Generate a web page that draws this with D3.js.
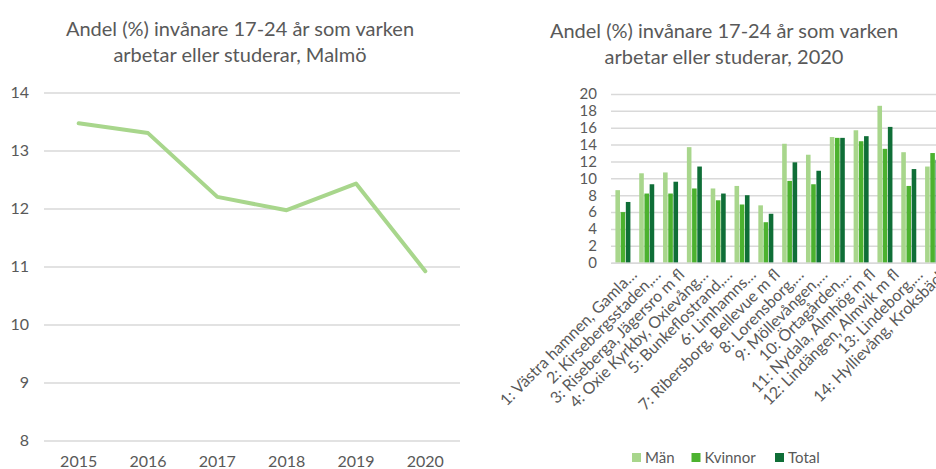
<!DOCTYPE html>
<html><head><meta charset="utf-8">
<script src="https://cdn.jsdelivr.net/npm/d3@7"></script>
<style>
body{margin:0;background:#fff;}
svg{display:block;font-family:Lato,"Open Sans",sans-serif;}
</style></head><body>
<svg id="c" width="936" height="469"></svg>
<script>
// ---- data: left line chart ----
const years = ["2015","2016","2017","2018","2019","2020"];
const malmoValues = [13.47, 13.30, 12.20, 11.97, 12.43, 10.92];
const leftTicks = [8, 9, 10, 11, 12, 13, 14];

// ---- data: right grouped bar chart ----
const areas = [
  "1: Västra hamnen, Gamla…",
  "2: Kirsebergsstaden,…",
  "3: Riseberga, Jägersro m fl",
  "4: Oxie Kyrkby, Oxievång…",
  "5: Bunkeflostrand,…",
  "6: Limhamns…",
  "7: Ribersborg, Bellevue m fl",
  "8: Lorensborg,…",
  "9: Möllevången,…",
  "10: Örtagården,…",
  "11: Nydala, Almhög m fl",
  "12: Lindängen, Almvik m fl",
  "13: Lindeborg,…",
  "14: Hyllievång, Kroksbäck"
];
const series = ["Män", "Kvinnor", "Total"];
const manValues     = [8.6, 10.6, 10.7, 13.7, 8.8, 9.1, 6.8, 14.1, 12.8, 14.9, 15.7, 18.6, 13.1, 11.4];
const kvinnorValues = [6.0, 8.2, 8.2, 8.8, 7.4, 6.9, 4.8, 9.7, 9.3, 14.8, 14.4, 13.5, 9.1, 13.0];
const totalValues   = [7.2, 9.3, 9.6, 11.4, 8.2, 8.0, 5.8, 11.9, 10.9, 14.8, 15.0, 16.1, 11.1, 12.2];
const rightTicks = [0, 2, 4, 6, 8, 10, 12, 14, 16, 18, 20];

const colors = {"Män": "#a8d68c", "Kvinnor": "#4cb22f", "Total": "#0f6e37"};
const textColor = "#595959";
const gridColor = "#d9d9d9";
const FONT = "Lato,'Open Sans',sans-serif";

const svg = d3.select("#c");

// ================= LEFT CHART =================
const L = svg.append("g");
L.append("text").attr("x", 240).attr("y", 36).attr("text-anchor", "middle")
  .attr("font-size", 20).attr("fill", textColor)
  .text("Andel (%) invånare 17-24 år som varken");
L.append("text").attr("x", 240).attr("y", 62).attr("text-anchor", "middle")
  .attr("font-size", 20).attr("fill", textColor)
  .text("arbetar eller studerar,  Malmö");

const xL = d3.scaleBand().domain(years).range([44, 460]);
const yL = d3.scaleLinear().domain([8, 14]).range([440.5, 92.5]);

const yAxisL = L.append("g").attr("transform", "translate(44,0)")
  .call(d3.axisLeft(yL).tickValues(leftTicks).tickFormat(d3.format("d")).tickSize(-416).tickPadding(15));
yAxisL.select(".domain").remove();
yAxisL.selectAll(".tick line").attr("stroke", gridColor).attr("stroke-width", 1.5);
yAxisL.selectAll(".tick text").attr("fill", textColor).attr("font-size", 16).attr("font-family", FONT);

const xAxisL = L.append("g").attr("transform", "translate(0,440.5)")
  .call(d3.axisBottom(xL).tickSize(0).tickPadding(15));
xAxisL.select(".domain").remove();
xAxisL.selectAll(".tick text").attr("fill", textColor).attr("font-size", 16).attr("font-family", FONT);

const line = d3.line().x((d, i) => xL(years[i]) + xL.bandwidth() / 2).y(d => yL(d));
L.append("path").datum(malmoValues).attr("d", line)
  .attr("fill", "none").attr("stroke", colors["Män"]).attr("stroke-width", 4)
  .attr("stroke-linejoin", "round").attr("stroke-linecap", "round");

// ================= RIGHT CHART =================
const R = svg.append("g");
R.append("text").attr("x", 724).attr("y", 38).attr("text-anchor", "middle")
  .attr("font-size", 20).attr("fill", textColor)
  .text("Andel (%) invånare 17-24 år som varken");
R.append("text").attr("x", 724).attr("y", 64).attr("text-anchor", "middle")
  .attr("font-size", 20).attr("fill", textColor)
  .text("arbetar eller studerar, 2020");

const x0 = d3.scaleBand().domain(areas).range([611, 944.5]).paddingInner(0.37).paddingOuter(0.185);
const x1 = d3.scaleBand().domain(series).range([0, x0.bandwidth()]).paddingInner(0.12);
const yR = d3.scaleLinear().domain([0, 20]).range([262.7, 94]);

const yAxisR = R.append("g").attr("transform", "translate(611,0)")
  .call(d3.axisLeft(yR).tickValues(rightTicks).tickSize(-340).tickPadding(14));
yAxisR.select(".domain").remove();
yAxisR.selectAll(".tick line").attr("stroke", gridColor).attr("stroke-width", 1.5);
yAxisR.selectAll(".tick text").attr("fill", textColor).attr("font-size", 15).attr("font-family", FONT);

const seriesData = {"Män": manValues, "Kvinnor": kvinnorValues, "Total": totalValues};
const groups = R.append("g").selectAll("g").data(areas).join("g")
  .attr("transform", d => `translate(${x0(d)},0)`);
groups.selectAll("rect").data((d, i) => series.map(s => ({s, v: seriesData[s][i]}))).join("rect")
  .attr("x", d => x1(d.s)).attr("width", x1.bandwidth())
  .attr("y", d => yR(d.v)).attr("height", d => yR(0) - yR(d.v))
  .attr("fill", d => colors[d.s]);

const xAxisR = R.append("g").attr("transform", "translate(0,262.7)")
  .call(d3.axisBottom(x0).tickSize(0).tickPadding(0));
xAxisR.select(".domain").attr("stroke", gridColor).attr("stroke-width", 1.5);
xAxisR.selectAll(".tick text")
  .attr("fill", textColor).attr("font-size", 16).attr("font-family", FONT)
  .attr("text-anchor", "end")
  .attr("dy", "0.35em")
  .attr("transform", "translate(11,9) rotate(-45)");

// legend
const legend = R.append("g").attr("transform", "translate(632,453)");
const legX = [0, 59.5, 143];
series.forEach((s, i) => {
  const g = legend.append("g").attr("transform", `translate(${legX[i]},0)`);
  g.append("rect").attr("width", 9).attr("height", 9).attr("y", 0).attr("fill", colors[s]);
  g.append("text").attr("x", 13).attr("y", 10).attr("font-size", 15).attr("fill", textColor).text(s);
});
</script>
</body></html>
